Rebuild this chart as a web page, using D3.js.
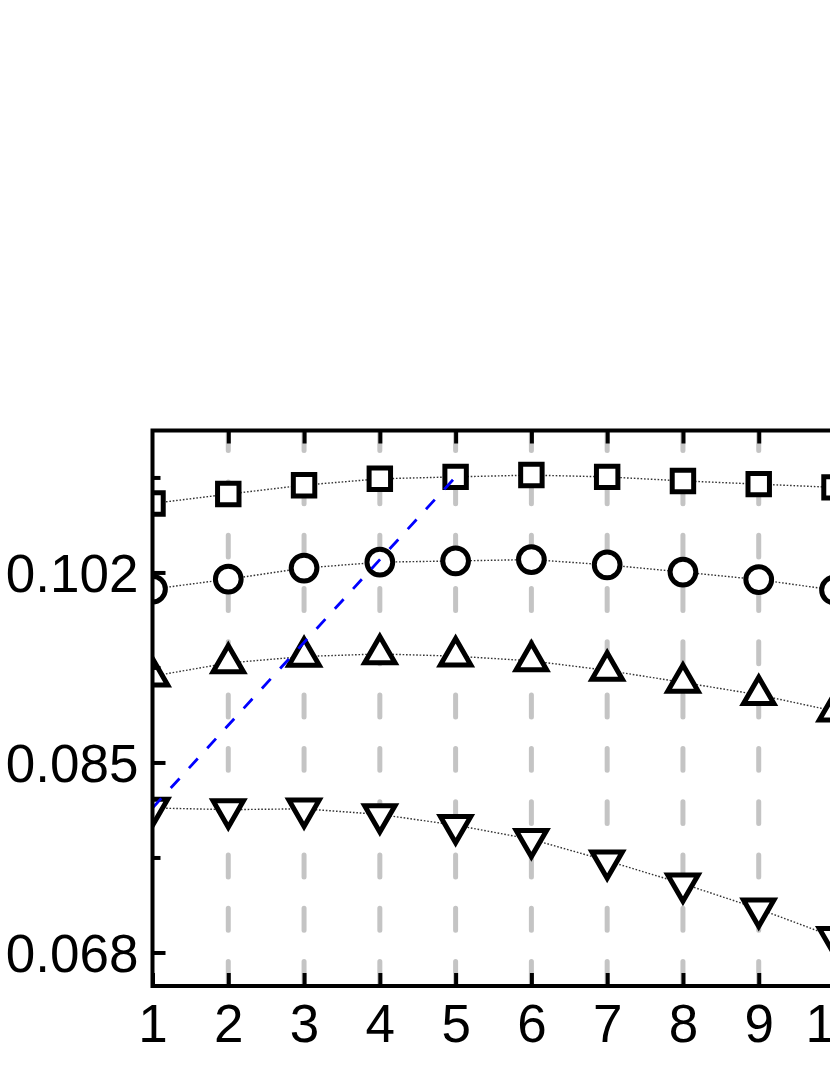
<!DOCTYPE html>
<html>
<head>
<meta charset="utf-8">
<script src="https://cdn.jsdelivr.net/npm/d3@7"></script>
<style>
  html, body { margin: 0; padding: 0; background: #ffffff; }
  svg { display: block; }
</style>
</head>
<body>
<script>
// ---- data ----
const xValues = [1, 2, 3, 4, 5, 6, 7, 8, 9, 10];
const squareSeries   = [0.10817, 0.10901, 0.10981, 0.11038, 0.11055, 0.11071, 0.11055, 0.11019, 0.10990, 0.10961];
const circleSeries   = [0.10051, 0.10140, 0.10239, 0.10292, 0.10303, 0.10315, 0.10268, 0.10203, 0.10136, 0.10042];
const triUpSeries    = [0.09272, 0.09390, 0.09448, 0.09471, 0.09451, 0.09409, 0.09324, 0.09216, 0.09105, 0.08959];
const triDownSeries  = [0.08093, 0.08078, 0.08085, 0.08035, 0.07939, 0.07813, 0.07620, 0.07415, 0.07190, 0.06937];
const blueLineX = [1, 5];
const blueLineY = [0.08093, 0.11055];
const xTickValues = [1, 2, 3, 4, 5, 6, 7, 8, 9, 10];
const xTickLabels = ["1", "2", "3", "4", "5", "6", "7", "8", "9", "10"];
const yMajorTicks = [0.068, 0.085, 0.102];
const yTickLabels = ["0.068", "0.085", "0.102"];
const yMinorTicks = [0.0765, 0.0935, 0.1105];
const xDomain = [1, 10];
const yDomain = [0.065, 0.1147];

// ---- layout ----
const W = 830, H = 1075;
const mLeft = 152.5, mRight = 834.5, mTop = 430.5, mBottom = 986;
const fontFamily = "'Liberation Sans', Arial, Helvetica, sans-serif";

const svg = d3.select("body").append("svg").attr("width", W).attr("height", H);
svg.append("rect").attr("width", W).attr("height", H).attr("fill", "#fff");

const x = d3.scaleLinear().domain(xDomain).range([mLeft, mRight]);
const y = d3.scaleLinear().domain(yDomain).range([mBottom, mTop]);

svg.append("defs").append("clipPath").attr("id", "plotclip")
  .append("rect").attr("x", mLeft).attr("y", mTop).attr("width", mRight - mLeft).attr("height", mBottom - mTop);

const plot = svg.append("g").attr("clip-path", "url(#plotclip)");

// grey dashed vertical grid lines
plot.selectAll("line.grid").data(xTickValues.filter(d => d > xDomain[0])).enter()
  .append("line").attr("class", "grid")
  .attr("x1", d => x(d)).attr("x2", d => x(d))
  .attr("y1", mBottom - 2.5).attr("y2", mTop)
  .attr("stroke", "#c4c4c4").attr("stroke-width", 5)
  .attr("stroke-linecap", "round").attr("stroke-dasharray", "21.9,31.4");

const series = [
  { values: squareSeries, type: d3.symbolSquare, size: 460, rot: 0 },
  { values: circleSeries, type: d3.symbolCircle, size: 520, rot: 0 },
  { values: triUpSeries, type: d3.symbolTriangle, size: 400, rot: 0 },
  { values: triDownSeries, type: d3.symbolTriangle, size: 400, rot: 180 }
];

const line = d3.line().x((d, i) => x(xValues[i])).y(d => y(d));

// dotted connecting lines
series.forEach(s => {
  plot.append("path").datum(s.values)
    .attr("d", line)
    .attr("fill", "none").attr("stroke", "#333")
    .attr("stroke-width", 1.4).attr("stroke-dasharray", "1.6,1.8");
});

// markers
series.forEach(s => {
  const sym = d3.symbol().type(s.type).size(s.size);
  plot.selectAll(null).data(s.values).enter().append("path")
    .attr("d", sym)
    .attr("transform", (d, i) => `translate(${x(xValues[i])},${y(d)}) rotate(${s.rot})`)
    .attr("fill", "#fff").attr("stroke", "#000")
    .attr("stroke-width", 5).attr("stroke-linejoin", "miter");
});

// blue dashed line
plot.append("path").datum(blueLineY)
  .attr("d", d3.line().x((d, i) => x(blueLineX[i])).y(d => y(d)))
  .attr("fill", "none").attr("stroke", "#0000ff")
  .attr("stroke-width", 2.8).attr("stroke-dasharray", "13,14");

// ---- axes ----
const xAxisBottom = d3.axisBottom(x).tickValues(xTickValues)
  .tickFormat((d, i) => xTickLabels[i]).tickSizeInner(-13).tickSizeOuter(0).tickPadding(18);
const gxb = svg.append("g").attr("transform", `translate(0,${mBottom})`).call(xAxisBottom);

const xAxisTop = d3.axisTop(x).tickValues(xTickValues.filter(d => d > xDomain[0]))
  .tickFormat("").tickSizeInner(-13).tickSizeOuter(0);
const gxt = svg.append("g").attr("transform", `translate(0,${mTop})`).call(xAxisTop);

const yAxisMajor = d3.axisLeft(y).tickValues(yMajorTicks)
  .tickFormat((d, i) => yTickLabels[i]).tickSizeInner(-13).tickSizeOuter(0).tickPadding(14);
const gym = svg.append("g").attr("transform", `translate(${mLeft},0)`).call(yAxisMajor);

const yAxisMinor = d3.axisLeft(y).tickValues(yMinorTicks)
  .tickFormat("").tickSizeInner(-8).tickSizeOuter(0);
const gyn = svg.append("g").attr("transform", `translate(${mLeft},0)`).call(yAxisMinor);

[gxb, gxt, gym, gyn].forEach(g => {
  g.select(".domain").remove();
  g.selectAll(".tick line").attr("stroke", "#000").attr("stroke-width", 4);
  g.selectAll(".tick text").attr("fill", "#000")
    .attr("font-family", fontFamily).attr("font-size", 53);
});
gym.selectAll(".tick text").attr("dy", "0.35em");

// frame
svg.append("rect")
  .attr("x", mLeft).attr("y", mTop).attr("width", mRight - mLeft).attr("height", mBottom - mTop)
  .attr("fill", "none").attr("stroke", "#000").attr("stroke-width", 4);
</script>
</body>
</html>
